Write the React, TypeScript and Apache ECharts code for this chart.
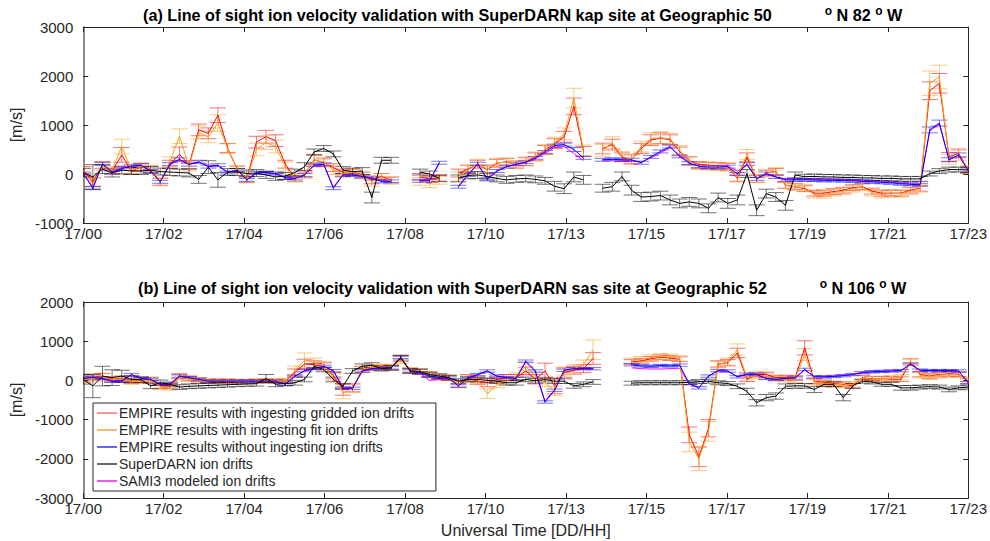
import React, { useEffect, useRef } from "react";
import * as echarts from "echarts";

const FONT = '"Liberation Sans", Arial, Helvetica, sans-serif';
const AXIS_COLOR = "#262626";

// One sample every 15 minutes from 17/00 to 17/23 UT (hours after 17/00)
const SAMPLE_STEP_H = 0.25;
const SAMPLE_COUNT = 93;
const HOURS = Array.from({ length: SAMPLE_COUNT }, (_, i) => i * SAMPLE_STEP_H);

const X_MAX_H = 23;
const TICK_LABELS = ["17/00", "17/02", "17/04", "17/06", "17/08", "17/10", "17/13", "17/15", "17/17", "17/19", "17/21", "17/23"];
const TICK_HOURS = TICK_LABELS.map((_, i) => (i * X_MAX_H) / (TICK_LABELS.length - 1));

// ---------- (a) kap site, 50°N 82°W : line-of-sight velocity [m/s] ----------
// rows hold 8 samples (2 hours)
const KAP_GRIDDED = [
  80, -160, 180, 60, 390, 60, 140, 100,
  -160, 200, 400, 190, 900, 830, 1200, 530,
  100, -110, 650, 760, 680, 200, -90, -20,
  290, 230, 130, 40, 40, -20, -120, -50,
  -120, null, null, -60, -100, -80, null, 20,
  100, 200, 90, 220, 250, 190, 250, 350,
  490, 620, 760, 1380, 460, null, 520, 600,
  340, 300, 520, 690, 730, 700, 460, 270,
  180, 170, 160, 150, -90, 340, -100, 20,
  50, -230, -260, -300, -390, -390, -360, -330,
  -280, -260, -350, -390, -390, -390, -330, -290,
  1700, 1850, 350, 420, 80,
];
const KAP_FIT = [
  60, -200, 150, 80, 560, 80, 150, 100,
  -160, 250, 770, 150, 850, 760, 1040, 520,
  90, -110, 500, 640, 560, 150, -90, 0,
  280, 250, 80, 0, 30, -30, -160, -60,
  -140, null, null, -150, -200, -130, null, -50,
  80, 210, 100, 230, 240, 200, 260, 360,
  500, 640, 820, 1550, 480, null, 480, 640,
  360, 300, 560, 720, 740, 720, 480, 260,
  170, 160, 150, 140, -60, 400, -90, 10,
  60, -230, -260, -280, -420, -420, -380, -350,
  -300, -270, -380, -420, -400, -400, -350, -300,
  1850, 1980, 300, 380, 90,
];
const KAP_NO_INGEST = [
  10, -290, 210, 30, 110, 160, 180, 60,
  -160, 200, 300, 190, 250, 150, 180, 30,
  80, -120, 20, 30, 10, -80, -90, -20,
  180, 200, -290, -20, -20, -50, -90, -150,
  -150, null, null, -140, -140, 230, null, -260,
  -20, 210, -110, 60, 150, 200, 240, 330,
  450, 580, 600, 500, 330, null, 290, 300,
  290, 290, 230, 350, 460, 560, 360, 220,
  160, 140, 140, 150, 0, 200, -100, 10,
  -60, -120, -120, -120, -125, -130, -130, -135,
  -140, -150, -160, -170, -180, -200, -210, -220,
  900, 1040, 290, 390, 70,
];
const KAP_SUPERDARN = [
  30, -60, 100, 20, 80, 60, 60, 80,
  50, 40, 30, 20, -110, 140, -120, 40,
  40, 10, 20, -20, -60, -40, 30, 150,
  450, 520, 410, 80, 50, 60, -480, 280,
  280, null, null, 40, 0, -90, null, -90,
  -30, -20, -50, -90, -120, -100, -90, -110,
  -140, -250, -300, -60, -120, null, -290, -260,
  -50, -330, -470, -460, -440, -530, -600, -570,
  -600, -700, -480, -600, -530, 10, -740, -400,
  -470, -640, -20, -55, -50, -60, -60, -70,
  -70, -80, -80, -90, -90, -100, -100, -100,
  10, 60, 90, 90, 80,
];
const KAP_SAMI3 = [
  20, -270, 200, 40, 130, 160, 170, 70,
  -150, 190, 290, 200, 240, 170, 170, 40,
  70, -110, 30, 30, 0, -70, -80, -10,
  170, 190, -270, -10, -20, -40, -80, -140,
  -140, null, null, -130, -130, 210, null, -240,
  -10, 190, -90, 60, 150, 190, 230, 310,
  420, 540, 560, 420, 270, null, 280, 290,
  280, 270, 240, 330, 430, 540, 380, 250,
  200, 180, 170, 170, 60, 180, -80, 0,
  -60, -100, -110, -110, -110, -115, -120, -125,
  -130, -140, -150, -160, -170, -190, -200, -210,
  880, 1020, 290, 380, 70,
];
// half-length of the error bars [m/s]
const KAP_GRIDDED_ERR = [
  70, 90, 70, 60, 150, 60, 70, 60,
  70, 80, 150, 80, 120, 110, 150, 90,
  60, 60, 120, 130, 120, 80, 60, 60,
  100, 80, 80, 60, 60, 60, 80, 60,
  60, null, null, 70, 70, 70, null, 80,
  80, 80, 80, 80, 70, 70, 80, 80,
  90, 100, 110, 170, 100, null, 110, 110,
  90, 90, 100, 110, 110, 100, 90, 80,
  70, 70, 70, 70, 70, 90, 70, 60,
  60, 60, 60, 60, 60, 60, 60, 60,
  60, 60, 60, 60, 60, 60, 60, 60,
  180, 200, 90, 90, 70,
];
const KAP_FIT_ERR = [
  80, 110, 80, 70, 150, 70, 80, 70,
  80, 100, 150, 90, 130, 120, 170, 100,
  70, 70, 130, 140, 130, 90, 70, 70,
  110, 90, 90, 70, 70, 70, 90, 70,
  70, null, null, 80, 80, 80, null, 90,
  90, 90, 90, 90, 80, 80, 90, 90,
  100, 110, 120, 200, 110, null, 120, 120,
  100, 100, 110, 120, 120, 110, 100, 90,
  80, 80, 80, 80, 80, 100, 80, 70,
  70, 70, 70, 70, 70, 70, 70, 70,
  70, 70, 70, 70, 70, 70, 70, 70,
  250, 240, 100, 100, 80,
];
const KAP_NO_INGEST_ERR = [
  30, 30, 30, 30, 30, 30, 30, 30,
  30, 30, 30, 30, 30, 30, 30, 30,
  30, 30, 30, 30, 30, 30, 30, 30,
  30, 30, 30, 30, 30, 30, 30, 30,
  30, null, null, 30, 30, 30, null, 30,
  30, 30, 30, 30, 30, 30, 30, 30,
  30, 30, 30, 40, 30, null, 30, 30,
  30, 30, 30, 30, 30, 30, 30, 30,
  30, 30, 30, 30, 30, 30, 30, 30,
  30, 30, 30, 30, 30, 30, 30, 30,
  30, 30, 30, 30, 30, 30, 30, 30,
  60, 60, 40, 40, 30,
];
const KAP_SUPERDARN_ERR = [
  80, 250, 90, 80, 80, 70, 70, 70,
  70, 70, 70, 80, 80, 130, 150, 70,
  70, 70, 70, 70, 70, 70, 70, 80,
  60, 60, 60, 70, 70, 70, 110, 60,
  60, null, null, 60, 60, 60, null, 70,
  70, 70, 70, 70, 70, 70, 70, 70,
  70, 100, 100, 100, 90, null, 80, 90,
  90, 100, 90, 90, 90, 100, 90, 90,
  90, 90, 90, 100, 100, 80, 110, 90,
  90, 100, 60, 50, 50, 50, 50, 50,
  50, 50, 50, 50, 50, 50, 50, 50,
  50, 50, 50, 50, 50,
];

// ---------- (b) sas site, 52°N 106°W : line-of-sight velocity [m/s] ----------
const SAS_GRIDDED = [
  30, 80, 110, 30, 50, -20, 0, 20,
  -140, -140, 110, 50, 20, -20, -20, -20,
  -30, -30, -20, -20, -20, -20, 200, 420,
  400, 360, 120, -230, -190, 280, 320, 330,
  330, 560, 250, 220, 150, 80, 60, -100,
  70, -20, -60, 25, 70, 70, 240, 30,
  240, -140, 200, 260, 300, 560, null, null,
  null, 470, 500, 550, 590, 570, 540, -1390,
  -1950, -1220, 420, 450, 700, 30, 150, 150,
  70, 70, 60, 830, -20, -50, -80, -100,
  -140, 70, 40, 40, 30, 30, 490, 150,
  110, 150, 170, 160, -20,
];
const SAS_FIT = [
  20, 60, 90, 20, 40, -30, -10, 0,
  -160, -180, 80, 40, 10, -20, -20, -20,
  -30, -30, -20, -20, -20, -20, 250, 520,
  450, 380, 80, -320, -200, 290, 330, 340,
  340, 520, 260, 230, 160, 90, 70, -100,
  30, 20, -340, -100, -20, 100, 360, 110,
  -60, -270, 240, 300, 400, 780, null, null,
  null, 500, 540, 580, 610, 600, 560, -1570,
  -2000, -1300, 400, 480, 790, 80, 120, 100,
  50, 30, 20, 660, -40, -70, -100, -120,
  -100, 60, 30, 40, 60, 80, 490, 130,
  90, 130, 150, 140, 0,
];
const SAS_NO_INGEST = [
  50, 80, 50, -20, -20, 150, 50, 25,
  -100, -100, 110, 70, 25, -20, -20, -20,
  -20, -20, -20, -20, -20, -100, 110, 250,
  300, 360, 250, -200, -200, 240, 300, 320,
  320, 590, 240, 190, 110, 70, 60, -140,
  60, 150, 240, 110, 70, 50, 490, 240,
  -550, -250, 260, 300, 300, 300, null, null,
  null, 400, 370, 360, 380, 370, 390, -80,
  -190, 110, 250, 240, 90, 160, 150, 50,
  30, 50, 60, 280, 90, 90, 100, 120,
  150, 200, 220, 230, 240, 250, 420, 260,
  250, 250, 250, 240, -60,
];
const SAS_SUPERDARN = [
  25, -140, 110, 70, 110, 25, 20, -140,
  -60, -100, -170, -150, -140, -130, -120, -110,
  -100, -90, -85, 50, -100, -80, -60, 25,
  360, 280, 25, -150, 240, 360, 390, 300,
  320, 580, 240, 230, 150, 110, 70, -20,
  25, 25, 0, -20, -60, -60, 25, -10,
  20, -20, -20, -140, -100, -40, null, null,
  null, -70, -60, -60, -60, -60, -60, -50,
  -30, -20, -60, -80, -150, -280, -570, -440,
  -400, -150, -140, -140, -230, -100, -100, -440,
  -140, -20, -40, -100, -100, -190, -190, -170,
  -160, -170, -230, -190, -170,
];
const SAS_SAMI3 = [
  50, 70, 50, -10, -20, 140, 50, 20,
  -100, -100, 100, 60, 20, -20, -20, -20,
  -20, -20, -20, -20, -20, -90, 100, 240,
  300, 350, 240, -190, -190, 230, 300, 310,
  320, 570, 240, 180, 0, 20, 50, -130,
  50, 140, 230, 110, 70, 60, 470, 230,
  -520, -240, 250, 290, 290, 290, null, null,
  null, 320, 300, 290, 290, 300, 310, -100,
  -180, 110, 240, 230, 100, 160, 150, 60,
  40, 50, 60, 260, 100, 100, 110, 130,
  160, 200, 220, 230, 240, 250, 400, 260,
  250, 250, 250, 240, -50,
];
const SAS_GRIDDED_ERR = [
  70, 70, 70, 60, 60, 60, 60, 60,
  60, 60, 60, 60, 50, 50, 50, 50,
  50, 50, 50, 50, 50, 50, 90, 120,
  100, 90, 80, 150, 100, 70, 60, 60,
  60, 80, 60, 60, 60, 60, 60, 80,
  80, 80, 100, 80, 80, 80, 100, 120,
  200, 200, 120, 100, 100, 150, null, null,
  null, 60, 60, 60, 60, 60, 60, 200,
  250, 220, 80, 80, 120, 60, 60, 60,
  60, 60, 60, 180, 60, 60, 60, 60,
  60, 60, 60, 60, 60, 60, 60, 60,
  60, 60, 60, 60, 60,
];
const SAS_FIT_ERR = [
  80, 80, 80, 70, 70, 70, 70, 70,
  70, 70, 70, 70, 60, 60, 60, 60,
  60, 60, 60, 60, 60, 60, 120, 180,
  120, 100, 90, 150, 110, 80, 70, 70,
  70, 90, 70, 70, 70, 70, 70, 90,
  90, 90, 120, 90, 90, 90, 110, 100,
  100, 120, 100, 100, 120, 250, null, null,
  null, 70, 70, 70, 70, 70, 70, 250,
  300, 250, 80, 90, 140, 70, 70, 70,
  70, 70, 70, 150, 70, 70, 70, 70,
  70, 70, 70, 70, 70, 70, 60, 70,
  70, 70, 70, 70, 70,
];
const SAS_NO_INGEST_ERR = [
  30, 30, 30, 30, 30, 30, 30, 30,
  30, 30, 30, 30, 30, 30, 30, 30,
  30, 30, 30, 30, 30, 30, 30, 30,
  30, 30, 30, 30, 30, 30, 30, 30,
  30, 30, 30, 30, 30, 30, 30, 30,
  30, 30, 30, 30, 30, 30, 30, 30,
  30, 30, 30, 30, 30, 30, null, null,
  null, 30, 30, 30, 30, 30, 30, 30,
  30, 30, 30, 30, 30, 30, 30, 30,
  30, 30, 30, 30, 30, 30, 30, 30,
  30, 30, 30, 30, 30, 30, 30, 30,
  30, 30, 30, 30, 30,
];
const SAS_SUPERDARN_ERR = [
  120, 300, 250, 200, 150, 80, 70, 70,
  70, 60, 60, 60, 60, 60, 60, 60,
  60, 60, 60, 100, 60, 60, 60, 60,
  70, 60, 60, 60, 60, 60, 60, 60,
  60, 60, 60, 60, 60, 60, 60, 60,
  60, 60, 60, 60, 60, 60, 60, 60,
  60, 60, 60, 60, 60, 60, null, null,
  null, 50, 50, 50, 50, 50, 50, 50,
  50, 50, 50, 50, 60, 80, 80, 80,
  80, 60, 60, 60, 80, 60, 60, 80,
  60, 50, 50, 50, 50, 60, 60, 50,
  50, 50, 60, 50, 50,
];

const NAMES = {
  gridded: "EMPIRE results with ingesting gridded ion drifts",
  fit: "EMPIRE results with ingesting fit ion drifts",
  noIngest: "EMPIRE results without ingesting ion drifts",
  superdarn: "SuperDARN ion drifts",
  sami3: "SAMI3 modeled ion drifts",
};
const COLORS = {
  gridded: "#ff0000",
  fit: "#f5a01a",
  noIngest: "#0000ff",
  superdarn: "#000000",
  sami3: "#ff00ff",
};
const LEGEND_COLORS = {
  gridded: "#ff6f6f",
  fit: "#f2a43a",
  noIngest: "#2f2fff",
  superdarn: "#333333",
  sami3: "#f01ef0",
};

const CAP_HALF_PX = 8;

type Vals = (number | null)[];

function lineSeries(key: keyof typeof NAMES, values: Vals, panel: number) {
  return {
    type: "line",
    name: NAMES[key],
    xAxisIndex: panel * 2,
    yAxisIndex: panel * 2,
    data: HOURS.map((h, i) => [h, values[i] == null ? "-" : values[i]]),
    showSymbol: false,
    symbol: "none",
    connectNulls: false,
    clip: true,
    lineStyle: { width: 1, color: COLORS[key] },
    itemStyle: { color: COLORS[key] },
    emphasis: { disabled: true },
  };
}

function errorSeries(key: keyof typeof NAMES, values: Vals, errs: Vals, panel: number) {
  const data: number[][] = [];
  values.forEach((v, i) => {
    if (v == null) return;
    const e = errs[i] ?? 0;
    data.push([HOURS[i], v - e, v + e]);
  });
  const color = COLORS[key];
  return {
    type: "custom",
    name: NAMES[key] + " (error)",
    xAxisIndex: panel * 2,
    yAxisIndex: panel * 2,
    clip: true,
    silent: true,
    encode: { x: 0, y: [1, 2] },
    data,
    renderItem: (_params: any, api: any) => {
      const x = api.value(0);
      const lo = api.coord([x, api.value(1)]);
      const hi = api.coord([x, api.value(2)]);
      const style = { stroke: color, lineWidth: 1, opacity: 0.55 };
      return {
        type: "group",
        children: [
          { type: "line", shape: { x1: lo[0], y1: lo[1], x2: hi[0], y2: hi[1] }, style },
          { type: "line", shape: { x1: lo[0] - CAP_HALF_PX, y1: lo[1], x2: lo[0] + CAP_HALF_PX, y2: lo[1] }, style },
          { type: "line", shape: { x1: hi[0] - CAP_HALF_PX, y1: hi[1], x2: hi[0] + CAP_HALF_PX, y2: hi[1] }, style },
        ],
      };
    },
  };
}

function panelSeries(
  panel: number,
  v: { gridded: Vals; fit: Vals; noIngest: Vals; superdarn: Vals; sami3: Vals },
  e: { gridded: Vals; fit: Vals; noIngest: Vals; superdarn: Vals }
) {
  return [
    lineSeries("sami3", v.sami3, panel),
    errorSeries("gridded", v.gridded, e.gridded, panel),
    lineSeries("gridded", v.gridded, panel),
    errorSeries("fit", v.fit, e.fit, panel),
    lineSeries("fit", v.fit, panel),
    errorSeries("noIngest", v.noIngest, e.noIngest, panel),
    lineSeries("noIngest", v.noIngest, panel),
    errorSeries("superdarn", v.superdarn, e.superdarn, panel),
    lineSeries("superdarn", v.superdarn, panel),
  ];
}

function xAxes(grid: number, withName: boolean) {
  const tick = { inside: true, length: 5, customValues: TICK_HOURS, lineStyle: { color: AXIS_COLOR } };
  const line = { show: true, onZero: false, lineStyle: { color: AXIS_COLOR, width: 1 } };
  return [
    {
      type: "value",
      gridIndex: grid,
      min: 0,
      max: X_MAX_H,
      position: "bottom",
      axisLine: line,
      axisTick: tick,
      splitLine: { show: false },
      axisLabel: {
        customValues: TICK_HOURS,
        margin: 3,
        fontSize: 15,
        fontFamily: FONT,
        color: AXIS_COLOR,
        formatter: (val: number) => TICK_LABELS[Math.round((val * (TICK_LABELS.length - 1)) / X_MAX_H)] ?? "",
      },
      name: withName ? "Universal Time [DD/HH]" : "",
      nameLocation: "middle",
      nameGap: 24,
      nameTextStyle: { fontSize: 16, fontFamily: FONT, color: AXIS_COLOR },
    },
    {
      type: "value",
      gridIndex: grid,
      min: 0,
      max: X_MAX_H,
      position: "top",
      axisLine: line,
      axisTick: tick,
      splitLine: { show: false },
      axisLabel: { show: false },
    },
  ];
}

function yAxes(grid: number, min: number, max: number) {
  const tick = { inside: true, length: 5, lineStyle: { color: AXIS_COLOR } };
  return [
    {
      type: "value",
      gridIndex: grid,
      min,
      max,
      interval: 1000,
      position: "left",
      axisLine: { show: true, onZero: false, lineStyle: { color: "#6e6e6e", width: 1.6 } },
      axisTick: tick,
      splitLine: { show: false },
      axisLabel: {
        margin: 10,
        fontSize: 15,
        fontFamily: FONT,
        color: AXIS_COLOR,
        formatter: (val: number) => String(val),
      },
      name: "[m/s]",
      nameLocation: "middle",
      nameGap: 54,
      nameTextStyle: { fontSize: 16, fontFamily: FONT, color: AXIS_COLOR },
    },
    {
      type: "value",
      gridIndex: grid,
      min,
      max,
      interval: 1000,
      position: "right",
      axisLine: { show: true, onZero: false, lineStyle: { color: AXIS_COLOR, width: 1 } },
      axisTick: tick,
      splitLine: { show: false },
      axisLabel: { show: false },
    },
  ];
}

const TITLE_RICH = {
  t: { fontSize: 16.2, fontWeight: "bold", fontFamily: FONT, color: "#000", lineHeight: 20 },
  sup: { fontSize: 12, fontWeight: "bold", fontFamily: FONT, color: "#000", verticalAlign: "top", lineHeight: 12 },
  gap: { width: 53, fontSize: 16 },
};

export default function App() {
  const ref = useRef<HTMLDivElement>(null);

  useEffect(() => {
    if (!ref.current) return;
    const chart = echarts.init(ref.current, undefined, { renderer: "svg" });
    const keys = ["gridded", "fit", "noIngest", "superdarn", "sami3"] as const;
    chart.setOption({
      animation: false,
      backgroundColor: "#ffffff",
      textStyle: { fontFamily: FONT },
      title: [
        {
          left: 138,
          top: 0,
          text:
            "{t|(a) Line of sight ion velocity validation with SuperDARN kap site at Geographic 50}{gap| }{sup|o}{t| N 82 }{sup|o}{t| W}",
          textStyle: { rich: TITLE_RICH },
        },
        {
          left: 133,
          top: 273,
          text:
            "{t|(b) Line of sight ion velocity validation with SuperDARN sas site at Geographic 52}{gap| }{sup|o}{t| N 106 }{sup|o}{t| W}",
          textStyle: { rich: TITLE_RICH },
        },
      ],
      grid: [
        { left: 80, top: 27, width: 893, height: 196, show: false },
        { left: 80, top: 302, width: 893, height: 196, show: false },
      ],
      xAxis: [...xAxes(0, false), ...xAxes(1, true)],
      yAxis: [...yAxes(0, -1000, 3000), ...yAxes(1, -3000, 2000)],
      legend: {
        orient: "vertical",
        left: 93,
        top: 403,
        icon: "rect",
        itemWidth: 20,
        itemHeight: 1.5,
        itemGap: 3,
        padding: [3, 22, 3, 4],
        backgroundColor: "#ffffff",
        borderColor: AXIS_COLOR,
        borderWidth: 1,
        selectedMode: false,
        textStyle: { fontSize: 14, fontFamily: FONT, color: AXIS_COLOR, padding: [0, 0, 0, -3] },
        data: keys.map((k) => ({ name: NAMES[k], itemStyle: { color: LEGEND_COLORS[k] } })),
      },
      series: [
        ...panelSeries(
          0,
          { gridded: KAP_GRIDDED, fit: KAP_FIT, noIngest: KAP_NO_INGEST, superdarn: KAP_SUPERDARN, sami3: KAP_SAMI3 },
          { gridded: KAP_GRIDDED_ERR, fit: KAP_FIT_ERR, noIngest: KAP_NO_INGEST_ERR, superdarn: KAP_SUPERDARN_ERR }
        ),
        ...panelSeries(
          1,
          { gridded: SAS_GRIDDED, fit: SAS_FIT, noIngest: SAS_NO_INGEST, superdarn: SAS_SUPERDARN, sami3: SAS_SAMI3 },
          { gridded: SAS_GRIDDED_ERR, fit: SAS_FIT_ERR, noIngest: SAS_NO_INGEST_ERR, superdarn: SAS_SUPERDARN_ERR }
        ),
      ],
    });
    return () => chart.dispose();
  }, []);

  return (
    <div
      ref={ref}
      style={{ position: "fixed", left: 0, top: 0, width: 990, height: 541, background: "#fff" }}
    />
  );
}
